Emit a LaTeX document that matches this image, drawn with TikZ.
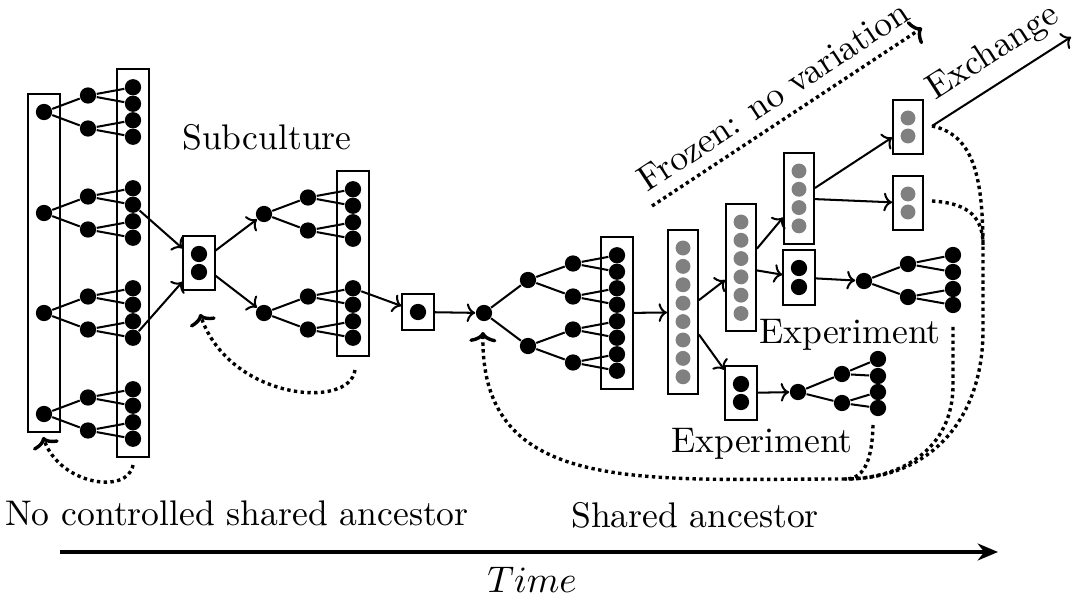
\documentclass[tikz,border=0pt]{standalone}
\usepackage{amsmath,amssymb}
\usepackage{xcolor}
\usepackage{tikz}
\usetikzlibrary{positioning,calc,fit,arrows.meta}

\begin{document}
\begin{tikzpicture}[x=0.295pt, y=-0.295pt,
        every node/.style={font=\fontsize{10.5pt}{12.6pt}\selectfont},
        dot/.style={circle, fill=black, inner sep=0pt, minimum size=4.8pt},
        gdot/.style={circle, fill=gray, inner sep=0pt, minimum size=4.4pt},
        grp/.style={draw, semithick, inner xsep=2pt, inner ysep=2.8pt},
        link/.style={semithick},
        flow/.style={semithick, -{Computer Modern Rightarrow[width=5.5pt,length=2.5pt]}},
        feed/.style={line width=1pt, densely dotted},
        back/.style={feed, -{Computer Modern Rightarrow[width=8pt,length=3pt]}}]
    \useasboundingbox (0,0) rectangle (1073,609);

    % No controlled shared ancestor
    \foreach \i/\y in {1/112, 2/213, 3/313, 4/414} {
        \node[dot] (a\i) at (44,\y) {};
        \node[dot] (a\i1) at (88,\y-16.5) {};
        \node[dot] (a\i2) at (88,\y+16.5) {};
        \node[dot] (b\i1) at (133,\y-24.75) {};
        \node[dot] (b\i2) at (133,\y-8.25) {};
        \node[dot] (b\i3) at (133,\y+8.25) {};
        \node[dot] (b\i4) at (133,\y+24.75) {};
        \draw[link] (a\i) -- (a\i1) (a\i) -- (a\i2)
            (a\i1) -- (b\i1) (a\i1) -- (b\i2) (a\i2) -- (b\i3) (a\i2) -- (b\i4);
    }
    \node[grp, fit=(a1)(a4)] (boxA) {};
    \node[grp, fit=(b11)(b44)] (boxB) {};
    \node (nocs) at (237,513) {No controlled shared ancestor};

    % Subculture
    \node[dot] (c1) at (199,254) {};
    \node[dot] (c2) at (199,272) {};
    \node[grp, fit=(c1)(c2)] (boxC) {};
    \draw[flow] (b22) -- (boxC);
    \draw[flow] (b34) -- (boxC);
    \node (subc) at (267,137) {Subculture};
    \foreach \i/\y in {1/214, 2/313} {
        \node[dot] (s\i) at (264,\y) {};
        \node[dot] (s\i1) at (308,\y-16.5) {};
        \node[dot] (s\i2) at (308,\y+16.5) {};
        \node[dot] (t\i1) at (353,\y-24.75) {};
        \node[dot] (t\i2) at (353,\y-8.25) {};
        \node[dot] (t\i3) at (353,\y+8.25) {};
        \node[dot] (t\i4) at (353,\y+24.75) {};
        \draw[link] (s\i) -- (s\i1) (s\i) -- (s\i2)
            (s\i1) -- (t\i1) (s\i1) -- (t\i2) (s\i2) -- (t\i3) (s\i2) -- (t\i4);
        \draw[flow] (boxC) -- (s\i);
    }
    \node[grp, fit=(t11)(t24)] (boxD) {};

    % Bottleneck
    \node[dot] (e1) at (418,312) {};
    \node[grp, fit=(e1)] (boxE) {};
    \draw[flow] (t21) -- (boxE);

    % Shared ancestor
    \node[dot] (f) at (484,313) {};
    \draw[flow] (boxE) -- (f);
    \node[dot] (f1) at (528,280) {};
    \node[dot] (f2) at (528,346) {};
    \foreach \j/\y in {1/263.5, 2/296.5, 3/329.5, 4/362.5} {
        \node[dot] (g\j) at (573,\y) {};
        \node[dot] (h\j1) at (617,\y-8.25) {};
        \node[dot] (h\j2) at (617,\y+8.25) {};
        \draw[link] (g\j) -- (h\j1) (g\j) -- (h\j2);
    }
    \draw[link] (f) -- (f1) (f) -- (f2) (f1) -- (g1) (f1) -- (g2) (f2) -- (g3) (f2) -- (g4);
    \node[grp, fit=(h11)(h42)] (boxG) {};
    \node (shr) at (695,515) {Shared ancestor};

    % Frozen samples
    \foreach \k in {1,...,8} \node[gdot] (p\k) at (683,{248+18.4*(\k-1)}) {};
    \node[grp, fit=(p1)(p8)] (boxH) {};
    \foreach \k in {1,...,6} \node[gdot] (q\k) at (741,{222+18.3*(\k-1)}) {};
    \node[grp, fit=(q1)(q6)] (boxI) {};
    \foreach \k in {1,...,4} \node[gdot] (r\k) at (799,{171+18.3*(\k-1)}) {};
    \node[grp, fit=(r1)(r4)] (boxP) {};
    \node[gdot] (n1) at (908,118) {};
    \node[gdot] (n2) at (908,136) {};
    \node[grp, fit=(n1)(n2)] (boxN) {};
    \node[gdot] (o1) at (908,194) {};
    \node[gdot] (o2) at (908,212) {};
    \node[grp, fit=(o1)(o2)] (boxO) {};

    % Experiments
    \node[dot] (j1) at (741,384) {};
    \node[dot] (j2) at (741,402) {};
    \node[grp, fit=(j1)(j2)] (boxJ) {};
    \node[dot] (l1) at (799,268) {};
    \node[dot] (l2) at (799,287) {};
    \node[grp, fit=(l1)(l2)] (boxL) {};
    \node[dot] (k) at (798,392) {};
    \node[dot] (k1) at (842,374) {};
    \node[dot] (k2) at (842,403) {};
    \foreach \j/\y in {1/359, 2/376, 3/392, 4/408} \node[dot] (kk\j) at (878,\y) {};
    \draw[link] (k) -- (k1) (k) -- (k2) (k1) -- (kk1) (k1) -- (kk2) (k2) -- (kk3) (k2) -- (kk4);
    \node[dot] (m) at (864,281) {};
    \node[dot] (m1) at (908,264) {};
    \node[dot] (m2) at (908,297) {};
    \foreach \j/\y in {1/255, 2/272, 3/289, 4/305} \node[dot] (mm\j) at (953,\y) {};
    \draw[link] (m) -- (m1) (m) -- (m2) (m1) -- (mm1) (m1) -- (mm2) (m2) -- (mm3) (m2) -- (mm4);
    \node (expU) at (850,335) {Experiment};
    \node (expD) at (762,444) {Experiment};

    % Flow between samples
    \draw[flow] (boxG) -- (boxH);
    \draw[flow] (boxH) -- (boxI);
    \draw[flow] (boxH) -- (boxJ);
    \draw[flow] (boxI) -- (boxP);
    \draw[flow] (boxI) -- (boxL);
    \draw[flow] (boxP) -- (boxN);
    \draw[flow] (boxP) -- (boxO);
    \draw[flow] (boxJ) -- (k);
    \draw[flow] (boxL) -- (m);

    % Frozen and exchange
    \coordinate (fz0) at (652,206);
    \coordinate (fz1) at (922,28);
    \draw[back] (fz0) -- node[sloped, above] {Frozen: no variation} (fz1);
    \coordinate (ex0) at (932,126);
    \coordinate (ex1) at (1071,37);
    \draw[flow] (ex0) -- node[sloped, above, pos=0.55] {Exchange} (ex1);

    % Back to the ancestor
    \coordinate (mrg) at (845,479);
    \draw[feed] (ex0) .. controls (975,135) and (983,180) .. (983,250) -- (983,330)
        .. controls (983,420) and (930,479) .. (mrg);
    \coordinate (os) at (932,201);
    \draw[feed] (os) .. controls (962,203) and (983,212) .. (983,245);
    \coordinate (ms) at (953,327);
    \draw[feed] (ms) -- (953,385) .. controls (953,450) and (900,479) .. (mrg);
    \coordinate (ks) at (873,425);
    \draw[feed] (ks) .. controls (872,465) and (862,479) .. (mrg);
    \coordinate (fa) at (483,332);
    \draw[back] (mrg) .. controls (640,479) and (480,495) .. (fa);
    \coordinate (sb) at (355,370);
    \coordinate (sa) at (200,314);
    \draw[back] (sb) .. controls (350,410) and (230,400) .. (sa);
    \coordinate (lb) at (133,465);
    \coordinate (la) at (43,437);
    \draw[back] (lb) .. controls (128,495) and (60,485) .. (la);

    % Time
    \coordinate (t0) at (60,552);
    \coordinate (t1) at (998,552);
    \draw[line width=1pt, -{Stealth[length=6pt,width=5pt]}] (t0) -- (t1);
    \node (time) at (532,580) {$Time$};
\end{tikzpicture}
\end{document}
